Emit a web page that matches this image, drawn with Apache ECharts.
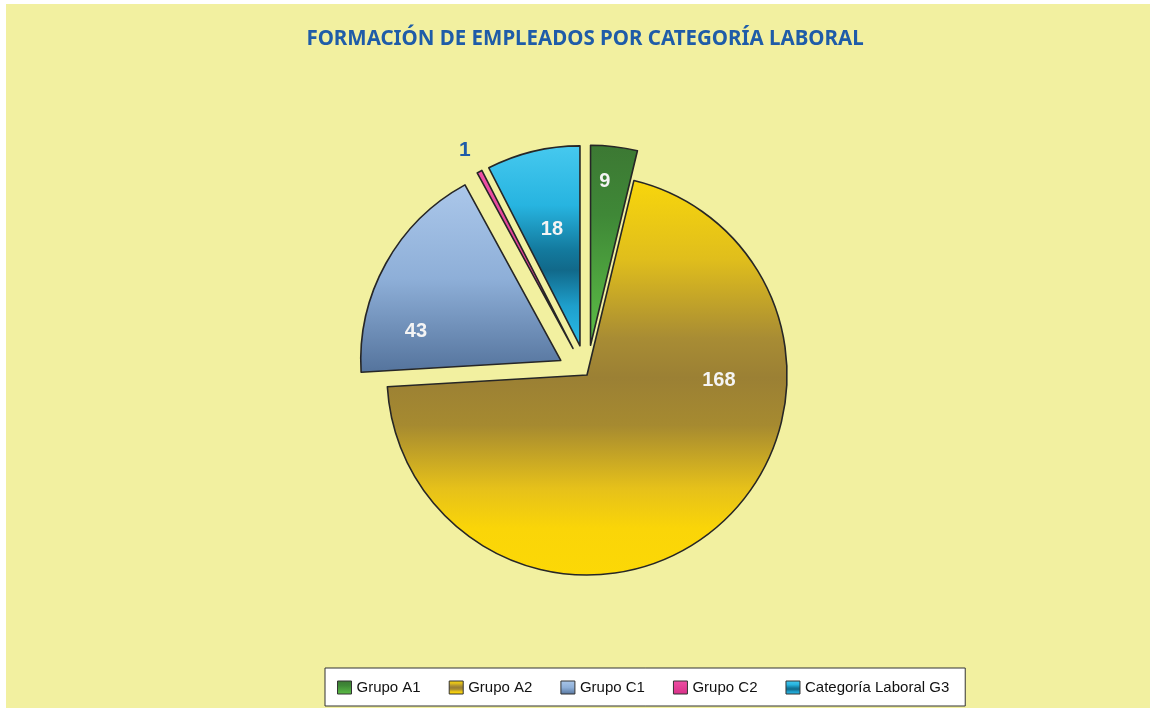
<!DOCTYPE html>
<html>
<head>
<meta charset="utf-8">
<script src="https://cdn.jsdelivr.net/npm/echarts@6/dist/echarts.min.js"></script>
<style>
  html, body { margin: 0; padding: 0; background: #ffffff; }
  #chart { position: absolute; left: 6px; top: 4px; width: 1144px; height: 704px; }
</style>
</head>
<body>
<div id="chart"></div>
<script>
// Training totals per job category
const categories = ['Grupo A1', 'Grupo A2', 'Grupo C1', 'Grupo C2', 'Categoría Laboral G3'];
const values = [9, 168, 43, 1, 18];
const exploded = [true, false, true, true, true];

const titleText = 'FORMACIÓN DE EMPLEADOS POR CATEGORÍA LABORAL';

// Vertical shading of each slice
const fills = [
  [[0, '#3c7833'], [0.35, '#3f8837'], [1, '#5dc046']],
  [[0, '#f8d60c'], [0.2, '#e0be1c'], [0.4, '#a88c34'], [0.5, '#9b8034'], [0.62, '#a68a30'], [0.78, '#e6c11a'], [0.88, '#fad508'], [1, '#fcd806']],
  [[0, '#abc7ea'], [0.5, '#8eafd8'], [1, '#54739c']],
  [[0, '#ee4fa4'], [1, '#d83088']],
  [[0, '#46c9ef'], [0.3, '#27b4e0'], [0.52, '#137a9e'], [0.62, '#11698a'], [0.8, '#1e9fcc'], [1, '#2bbeea']]
];

// Pie geometry
const CX = 581, CY = 371, R = 200;

// Label anchors: fraction of radius and angle clockwise from 12 o'clock
const labelSpots = [
  { r: 0.97, a: 5.3 },
  { r: 0.66, a: 92.2 },
  { r: 0.883, a: 284.4 },
  { r: 1.28, a: 331.5 },
  { r: 0.75, a: 346.5 }
];

function gradient(stops) {
  return {
    type: 'linear', x: 0, y: 0, x2: 0, y2: 1,
    colorStops: stops.map(s => ({ offset: s[0], color: s[1] }))
  };
}

const sliceData = categories.map((name, i) => ({
  name: name,
  value: values[i],
  selected: exploded[i],
  itemStyle: { color: gradient(fills[i]) }
}));

const labelData = categories.map((name, i) => ({
  name: name,
  value: values[i],
  label: i === 3 ? { color: '#1f5ca8', fontSize: 21 } : {}
}));

const chart = echarts.init(document.getElementById('chart'), null, { renderer: 'canvas' });

chart.setOption({
  backgroundColor: '#f2f0a0',
  animation: false,
  title: {
    text: titleText,
    left: 574,
    top: 20,
    textAlign: 'center',
    textStyle: {
      fontFamily: 'Noto Sans',
      fontWeight: 'bold',
      fontSize: 20.5,
      color: '#1f5ca8'
    }
  },
  legend: {
    data: categories,
    left: 319,
    top: 664,
    orient: 'horizontal',
    backgroundColor: '#ffffff',
    borderColor: '#333333',
    borderWidth: 1,
    borderRadius: 0,
    padding: [12, 16, 11, 12],
    itemWidth: 14,
    itemHeight: 13,
    itemGap: 28,
    icon: 'rect',
    selectedMode: false,
    itemStyle: { borderColor: '#333333', borderWidth: 1 },
    textStyle: {
      fontFamily: 'Liberation Sans',
      fontSize: 15,
      color: '#111111'
    }
  },
  series: [
    {
      name: 'slices',
      type: 'pie',
      center: [CX, CY],
      radius: [0, R],
      startAngle: 90,
      clockwise: true,
      selectedMode: 'multiple',
      selectedOffset: 30,
      avoidLabelOverlap: false,
      label: { show: false },
      labelLine: { show: false },
      emphasis: { disabled: true },
      itemStyle: { borderColor: '#262626', borderWidth: 1.6 },
      data: sliceData
    },
    {
      name: 'values',
      type: 'pie',
      center: [CX, CY],
      radius: [0, R],
      startAngle: 90,
      clockwise: true,
      silent: true,
      legendHoverLink: false,
      avoidLabelOverlap: false,
      itemStyle: { color: 'rgba(0,0,0,0)', borderWidth: 0 },
      emphasis: { disabled: true },
      labelLine: { show: false },
      label: {
        show: true,
        position: 'inside',
        formatter: '{c}',
        fontFamily: 'Liberation Sans',
        fontWeight: 'bold',
        fontSize: 20,
        color: '#f4f4f4'
      },
      labelLayout: function (params) {
        const s = labelSpots[params.dataIndex];
        const rad = s.a * Math.PI / 180;
        return {
          x: CX + s.r * R * Math.sin(rad),
          y: CY - s.r * R * Math.cos(rad),
          align: 'center',
          verticalAlign: 'middle'
        };
      },
      data: labelData
    }
  ]
});
</script>
</body>
</html>
